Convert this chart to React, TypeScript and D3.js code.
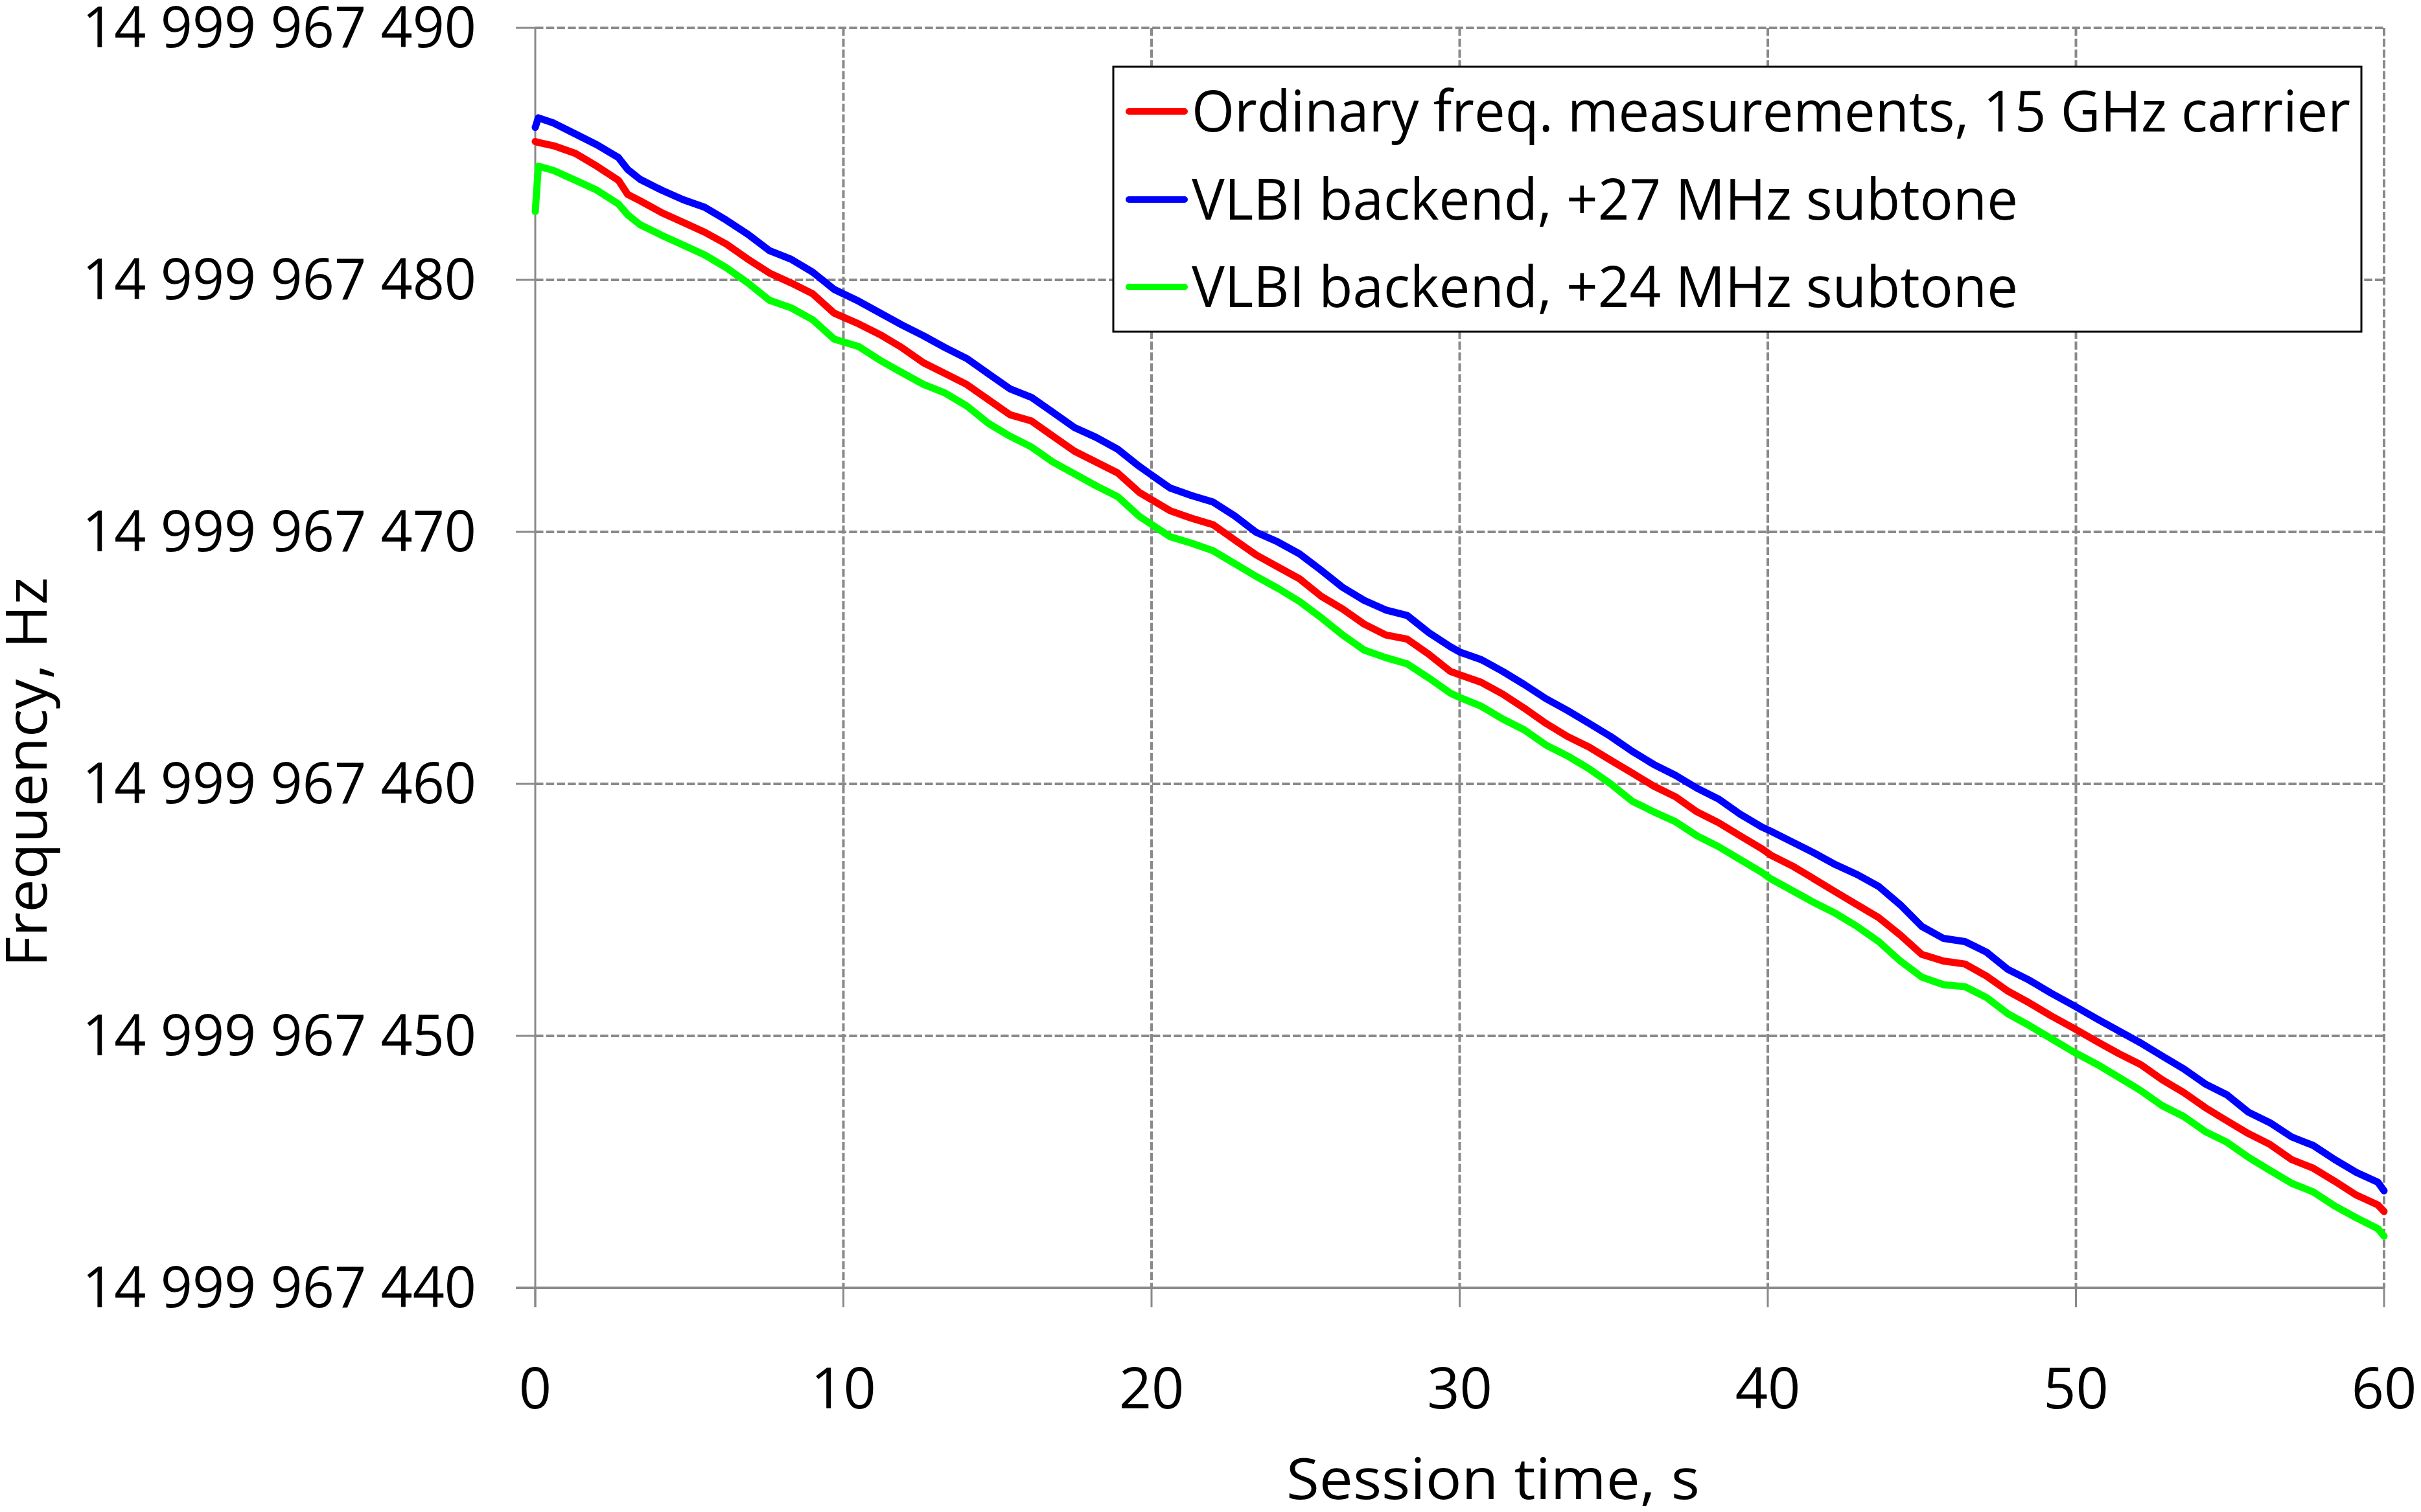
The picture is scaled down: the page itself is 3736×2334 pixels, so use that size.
import React from "react";
import * as d3 from "d3";

// ---- Data ----
const timeS: number[] = [
  0, 0.1, 0.6, 1.3, 2.0, 2.7, 3.0, 3.4, 4.1, 4.8, 5.5, 6.2, 6.9, 7.6, 8.3, 9.0, 9.7,
  10.5, 11.2, 11.9, 12.6, 13.3, 14.0, 14.7, 15.4, 16.1, 16.8, 17.5, 18.2, 18.9, 19.6,
  20.6, 21.3, 22.0, 22.7, 23.4, 24.1, 24.8, 25.5, 26.2, 26.9, 27.6, 28.3, 29.0, 29.7,
  30.0, 30.7, 31.4, 32.1, 32.8, 33.5, 34.2, 34.9, 35.6, 36.3, 37.0, 37.7, 38.4, 39.1, 39.8,
  40.1, 40.8, 41.5, 42.2, 42.9, 43.6, 44.3, 45.0, 45.7, 46.4, 47.1, 47.8, 48.5, 49.2, 49.9,
  50.7, 51.4, 52.1, 52.8, 53.5, 54.2, 54.9, 55.6, 56.3, 57.0, 57.7, 58.4, 59.1, 59.8, 60.0,
];

// offsets above 14 999 967 000 Hz
const ordinaryHz: number[] = [
  485.49, 485.45, 485.32, 485.02, 484.51, 483.95, 483.39, 483.14, 482.67, 482.28, 481.89, 481.42, 480.82, 480.27, 479.88, 479.45, 478.68,
  478.25, 477.82, 477.31, 476.71, 476.28, 475.85, 475.25, 474.65, 474.4, 473.8, 473.2, 472.77, 472.34, 471.57,
  470.84, 470.54, 470.28, 469.68, 469.08, 468.61, 468.14, 467.45, 466.94, 466.34, 465.91, 465.74, 465.14, 464.46,
  464.33, 464.03, 463.56, 463.0, 462.4, 461.88, 461.46, 460.94, 460.43, 459.91, 459.49, 458.89, 458.46, 457.94, 457.43,
  457.17, 456.74, 456.23, 455.71, 455.2, 454.69, 454.0, 453.23, 452.97, 452.85, 452.37, 451.77, 451.3, 450.79, 450.32,
  449.76, 449.29, 448.86, 448.26, 447.75, 447.15, 446.63, 446.12, 445.69, 445.09, 444.75, 444.23, 443.68, 443.29, 443.03,
];

const vlbi27Hz: number[] = [
  486.05, 486.43, 486.22, 485.79, 485.36, 484.85, 484.38, 483.99, 483.56, 483.18, 482.88, 482.37, 481.81, 481.16, 480.82, 480.31, 479.62,
  479.15, 478.68, 478.21, 477.78, 477.31, 476.88, 476.28, 475.68, 475.34, 474.74, 474.14, 473.75, 473.28, 472.6,
  471.74, 471.44, 471.18, 470.63, 469.98, 469.6, 469.13, 468.48, 467.8, 467.28, 466.9, 466.68, 466.0, 465.44,
  465.23, 464.93, 464.46, 463.94, 463.38, 462.91, 462.4, 461.88, 461.29, 460.77, 460.34, 459.83, 459.4, 458.8, 458.29,
  458.12, 457.69, 457.26, 456.79, 456.4, 455.93, 455.2, 454.34, 453.87, 453.74, 453.32, 452.63, 452.2, 451.69, 451.22,
  450.66, 450.19, 449.72, 449.2, 448.69, 448.09, 447.66, 446.97, 446.55, 445.99, 445.65, 445.09, 444.58, 444.19, 443.85,
];

const vlbi24Hz: number[] = [
  482.71, 484.51, 484.34, 483.95, 483.56, 483.01, 482.58, 482.19, 481.77, 481.38, 480.99, 480.48, 479.88, 479.19, 478.89, 478.42, 477.65,
  477.35, 476.8, 476.32, 475.85, 475.51, 475.0, 474.31, 473.8, 473.37, 472.77, 472.3, 471.83, 471.4, 470.62,
  469.81, 469.55, 469.25, 468.74, 468.23, 467.76, 467.24, 466.6, 465.91, 465.31, 465.01, 464.76, 464.2, 463.6,
  463.43, 463.08, 462.57, 462.14, 461.54, 461.11, 460.6, 460.0, 459.31, 458.89, 458.5, 457.94, 457.51, 457.0, 456.49,
  456.23, 455.76, 455.29, 454.86, 454.34, 453.74, 452.97, 452.33, 452.03, 451.95, 451.52, 450.87, 450.4, 449.89, 449.38,
  448.86, 448.35, 447.83, 447.23, 446.8, 446.2, 445.78, 445.18, 444.66, 444.15, 443.81, 443.25, 442.78, 442.35, 442.05,
];

const yTicks: number[] = [440, 450, 460, 470, 480, 490];
const yTickLabels: string[] = [
  "14 999 967 440",
  "14 999 967 450",
  "14 999 967 460",
  "14 999 967 470",
  "14 999 967 480",
  "14 999 967 490",
];
const xTicks: number[] = [0, 10, 20, 30, 40, 50, 60];

const seriesNames: string[] = [
  "Ordinary freq. measurements, 15 GHz carrier",
  "VLBI backend, +27 MHz subtone",
  "VLBI backend, +24 MHz subtone",
];
const seriesColors: string[] = ["#ff0000", "#0000ff", "#00ff00"];
const seriesValues: number[][] = [ordinaryHz, vlbi27Hz, vlbi24Hz];

const xTitle = "Session time, s";
const yTitle = "Frequency, Hz";

// ---- Layout ----
const W = 3736;
const H = 2334;
const left = 826;
const right = 3679;
const top = 43;
const bottom = 1988;
const FONT = "'Open Sans', 'Noto Sans', sans-serif";
const FS = 88;
const GRID = "#898989";

export default function App() {
  const x = d3.scaleLinear().domain([0, 60]).range([left, right]);
  const y = d3.scaleLinear().domain([440, 490]).range([bottom, top]);

  const line = d3
    .line<number>()
    .x((_, i) => x(timeS[i]))
    .y((v) => y(v));

  const legend = { x: 1718, y: 103, w: 1926, h: 409, rows: [172, 308, 443] };
  const legendTextLen = [1788, 1275, 1275];

  return (
    <svg
      width={W}
      height={H}
      viewBox={`0 0 ${W} ${H}`}
      style={{ position: "fixed", left: 0, top: 0, display: "block", background: "#fff" }}
    >
      <rect x={0} y={0} width={W} height={H} fill="#fff" />

      {/* horizontal grid */}
      {yTicks.map((t) => (
        <line
          key={"hg" + t}
          x1={left}
          x2={right}
          y1={y(t)}
          y2={y(t)}
          stroke={GRID}
          strokeWidth={4}
          strokeDasharray="12.5 4.2"
        />
      ))}
      {/* vertical grid */}
      {xTicks.slice(1).map((t) => (
        <line
          key={"vg" + t}
          x1={x(t)}
          x2={x(t)}
          y1={top}
          y2={bottom}
          stroke={GRID}
          strokeWidth={4}
          strokeDasharray="12.5 4.2"
        />
      ))}

      {/* axes */}
      <line x1={left} x2={left} y1={top} y2={bottom + 30} stroke={GRID} strokeWidth={3} />
      <line x1={left - 30} x2={right} y1={bottom} y2={bottom} stroke={GRID} strokeWidth={4} />
      {yTicks.map((t) => (
        <line key={"yt" + t} x1={left - 30} x2={left} y1={y(t)} y2={y(t)} stroke={GRID} strokeWidth={3} />
      ))}
      {xTicks.map((t) => (
        <line key={"xt" + t} x1={x(t)} x2={x(t)} y1={bottom} y2={bottom + 30} stroke={GRID} strokeWidth={3} />
      ))}

      {/* tick labels */}
      {yTicks.map((t, i) => (
        <text
          key={"yl" + t}
          x={735}
          y={y(t) + 30}
          textAnchor="end"
          fontFamily={FONT}
          fontSize={FS}
          fill="#000"
          textLength={608}
          lengthAdjust="spacingAndGlyphs"
        >
          {yTickLabels[i]}
        </text>
      ))}
      {xTicks.map((t) => (
        <text
          key={"xl" + t}
          x={x(t)}
          y={2174}
          textAnchor="middle"
          fontFamily={FONT}
          fontSize={FS}
          fill="#000"
        >
          {String(t)}
        </text>
      ))}

      {/* axis titles */}
      <text
        x={2304}
        y={2314}
        textAnchor="middle"
        fontFamily={FONT}
        fontSize={FS}
        fill="#000"
        textLength={638}
        lengthAdjust="spacingAndGlyphs"
      >
        {xTitle}
      </text>
      <text
        transform={`translate(72, 1192) rotate(-90)`}
        textAnchor="middle"
        fontFamily={FONT}
        fontSize={FS}
        fill="#000"
        textLength={602}
        lengthAdjust="spacingAndGlyphs"
      >
        {yTitle}
      </text>

      {/* series */}
      {seriesValues.map((vals, i) => (
        <path
          key={"s" + i}
          d={line(vals) || ""}
          fill="none"
          stroke={seriesColors[i]}
          strokeWidth={11}
          strokeLinejoin="round"
          strokeLinecap="round"
        />
      ))}

      {/* legend */}
      <rect
        x={legend.x}
        y={legend.y}
        width={legend.w}
        height={legend.h}
        fill="#fff"
        stroke="#000"
        strokeWidth={3}
      />
      {seriesNames.map((name, i) => (
        <g key={"lg" + i}>
          <line
            x1={1742}
            x2={1828}
            y1={legend.rows[i]}
            y2={legend.rows[i]}
            stroke={seriesColors[i]}
            strokeWidth={10}
            strokeLinecap="round"
          />
          <text
            x={1839}
            y={legend.rows[i] + 31}
            fontFamily={FONT}
            fontSize={FS}
            fill="#000"
            textLength={legendTextLen[i]}
            lengthAdjust="spacingAndGlyphs"
          >
            {name}
          </text>
        </g>
      ))}
    </svg>
  );
}
